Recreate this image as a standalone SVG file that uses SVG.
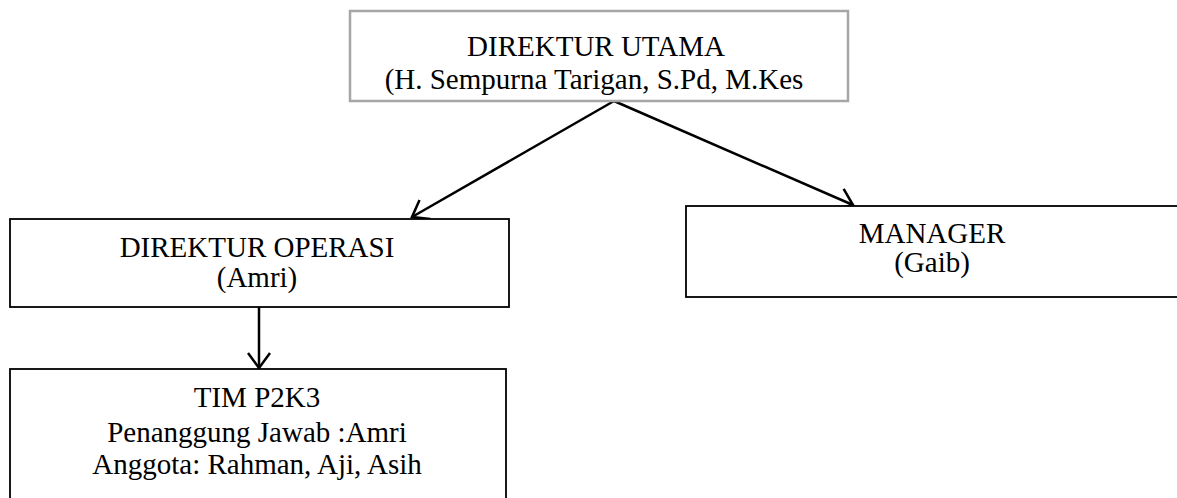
<svg xmlns="http://www.w3.org/2000/svg" width="1177" height="498" viewBox="0 0 1177 498">
<defs>
<style>
.box{fill:#fff;stroke:#000;stroke-width:1.8}
.top{fill:#fff;stroke:#a6a6a6;stroke-width:2.5}
.t{font-family:"Liberation Serif","Times New Roman",serif;font-size:29px;fill:#000;text-anchor:middle}
.edge{fill:none;stroke:#000;stroke-width:2.5;marker-end:url(#arr)}
</style>
<marker id="arr" viewBox="-17 -12 19 24" markerWidth="19" markerHeight="24" refX="0" refY="0" orient="auto" markerUnits="userSpaceOnUse">
<path d="M-15,-11 L0,0 L-15,11" fill="none" stroke="#000" stroke-width="2.5"/>
</marker>
</defs>
<rect width="1177" height="498" fill="#fff"/>
<g id="connectors">
<path class="edge" d="M614,101 L412,217"/>
<path class="edge" d="M614,101 L853,205"/>
<path class="edge" d="M259,307 L259,368"/>
</g>
<g id="direktur-utama">
<rect class="top" x="350" y="11" width="498" height="90"/>
<text class="t" x="596" y="56">DIREKTUR UTAMA</text>
<text class="t" x="594" y="89">(H. Sempurna Tarigan, S.Pd, M.Kes</text>
</g>
<g id="direktur-operasi">
<rect class="box" x="10" y="219" width="499" height="88"/>
<text class="t" x="257" y="257">DIREKTUR OPERASI</text>
<text class="t" x="257" y="287">(Amri)</text>
</g>
<g id="manager">
<rect class="box" x="686" y="206" width="520" height="91"/>
<text class="t" x="932" y="243">MANAGER</text>
<text class="t" x="932" y="272">(Gaib)</text>
</g>
<g id="tim-p2k3">
<rect class="box" x="10" y="369" width="496" height="150"/>
<text class="t" x="257" y="407">TIM P2K3</text>
<text class="t" x="257" y="442">Penanggung Jawab :Amri</text>
<text class="t" x="257" y="474">Anggota: Rahman, Aji, Asih</text>
</g>
</svg>
